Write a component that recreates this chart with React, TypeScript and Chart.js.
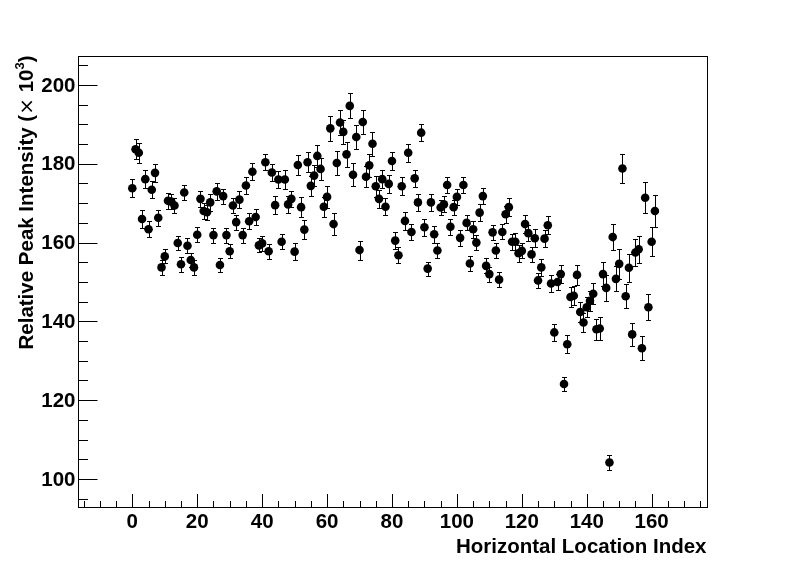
import React, { useEffect, useRef } from "react";
import { Chart, registerables } from "chart.js";
Chart.register(...registerables);

// Relative peak intensity (x 10^3) per horizontal location index 0..161
const intensity = [
  173.8, 183.7, 182.8, 166.0, 176.1, 163.4, 173.4, 177.7, 166.3, 153.7,
  156.5, 170.6, 170.4, 169.4, 159.9, 154.5, 172.7, 159.2, 155.6, 153.7,
  162.0, 171.1, 168.0, 167.7, 170.2, 161.9, 173.0, 154.3, 171.8, 161.9,
  157.8, 169.4, 165.2, 170.9, 161.9, 174.5, 165.4, 178.0, 166.5, 159.3,
  159.8, 180.4, 157.8, 177.8, 169.5, 176.0, 160.2, 176.0, 169.7, 171.1,
  157.7, 179.7, 169.0, 163.3, 180.4, 174.4, 177.0, 182.0, 178.7, 169.1,
  171.6, 189.0, 164.7, 180.2, 190.5, 188.1, 182.4, 194.7, 177.2, 186.8,
  158.1, 190.6, 176.7, 179.6, 185.1, 174.3, 171.1, 176.1, 169.1, 174.9,
  180.7, 160.5, 156.8, 174.3, 165.5, 182.8, 162.7, 176.3, 170.2, 187.9,
  163.9, 153.4, 170.2, 162.1, 158.0, 168.9, 169.7, 174.6, 164.0, 169.0,
  171.6, 161.2, 174.6, 165.0, 154.7, 163.4, 160.0, 167.6, 171.8, 154.1,
  152.0, 162.6, 158.0, 150.6, 162.7, 167.2, 169.0, 160.2, 160.2, 157.3,
  157.9, 164.7, 162.4, 157.0, 161.1, 150.4, 153.7, 161.0, 164.4, 149.6,
  137.2, 150.0, 152.0, 124.1, 134.2, 146.2, 146.5, 151.8, 142.4, 139.7,
  143.6, 145.2, 147.0, 138.0, 138.2, 152.0, 148.5, 104.2, 161.4, 150.8,
  154.6, 178.8, 146.4, 153.6, 136.7, 157.5, 158.3, 133.2, 171.4, 143.6,
  160.2, 168.0,
];

// Error (half length of the vertical error bar), same units
const errors = [
  2.3, 2.5, 2.5, 2.2, 2.2, 2.0, 2.2, 2.2, 2.0, 1.8,
  1.8, 2.0, 2.0, 1.9, 1.9, 1.9, 1.9, 1.9, 1.8, 1.9,
  1.9, 2.0, 2.0, 1.9, 2.1, 1.9, 2.1, 1.8, 1.9, 1.9,
  1.8, 1.9, 1.9, 2.1, 1.9, 2.1, 2.0, 2.1, 2.0, 1.8,
  1.9, 2.0, 1.9, 2.1, 2.2, 2.1, 1.9, 2.4, 2.1, 2.1,
  2.1, 2.5, 2.5, 2.5, 2.6, 2.5, 2.6, 2.8, 2.75, 2.5,
  2.7, 3.1, 2.7, 3.0, 3.1, 3.1, 3.1, 3.2, 2.9, 3.1,
  2.4, 3.0, 2.7, 3.0, 3.0, 2.7, 2.3, 2.3, 2.1, 2.3,
  2.3, 2.2, 2.0, 2.3, 2.2, 2.3, 2.1, 2.2, 2.1, 2.2,
  2.1, 1.8, 2.1, 2.1, 2.0, 2.0, 2.0, 2.1, 2.0, 1.9,
  2.1, 2.0, 2.1, 1.9, 1.9, 2.2, 2.0, 2.2, 2.0, 1.9,
  1.9, 1.9, 1.9, 1.9, 1.9, 2.1, 2.2, 2.1, 2.2, 2.1,
  1.9, 2.3, 2.1, 2.0, 2.3, 1.8, 2.2, 2.2, 2.3, 2.1,
  2.1, 2.0, 2.2, 1.8, 2.3, 2.5, 2.4, 2.6, 2.5, 2.5,
  2.5, 2.5, 2.7, 2.6, 2.9, 3.1, 3.4, 2.0, 3.2, 3.2,
  3.9, 3.6, 3.1, 3.5, 3.0, 3.4, 3.5, 3.1, 3.9, 3.3,
  3.7, 4.0,
];

const xTickLabels = [0, 20, 40, 60, 80, 100, 120, 140, 160];
const yTickLabels = [100, 120, 140, 160, 180, 200];
const xTitle = "Horizontal Location Index";

const FONT = '"Liberation Sans", Arial, Helvetica, sans-serif';

export default function App() {
  const ref = useRef<HTMLCanvasElement>(null);

  useEffect(() => {
    document.body.style.margin = "0";
    const canvas = ref.current;
    if (!canvas) return;
    const points = intensity.map((v, i) => ({ x: i, y: v }));

    const bgPlugin = {
      id: "bg",
      beforeDraw(chart: any) {
        const c = chart.ctx;
        c.save();
        c.fillStyle = "#fff";
        c.fillRect(0, 0, chart.width, chart.height);
        c.restore();
      },
    };

    const errPlugin = {
      id: "errbars",
      beforeDatasetsDraw(chart: any) {
        const c = chart.ctx;
        const xs = chart.scales.x;
        const ys = chart.scales.y;
        c.save();
        c.strokeStyle = "#000";
        c.lineWidth = 1;
        c.beginPath();
        points.forEach((p, i) => {
          const px = Math.round(xs.getPixelForValue(p.x)) + 0.5;
          const y1 = Math.round(ys.getPixelForValue(p.y - errors[i])) + 0.5;
          const y2 = Math.round(ys.getPixelForValue(p.y + errors[i])) + 0.5;
          c.moveTo(px, y1);
          c.lineTo(px, y2);
          c.moveTo(px - 2.5, y1);
          c.lineTo(px + 2.5, y1);
          c.moveTo(px - 2.5, y2);
          c.lineTo(px + 2.5, y2);
        });
        c.stroke();
        c.restore();
      },
    };

    const axesPlugin = {
      id: "rootAxes",
      afterDraw(chart: any) {
        const c = chart.ctx;
        const a = chart.chartArea;
        const xs = chart.scales.x;
        const ys = chart.scales.y;
        c.save();
        c.strokeStyle = "#000";
        c.lineWidth = 1;
        const L = Math.round(a.left) - 0.5;
        const R = Math.round(a.right) - 0.5;
        const T = Math.round(a.top) + 0.5;
        const B = Math.round(a.bottom) + 0.5;
        c.strokeRect(L, T, R - L, B - T);

        // x ticks (inward)
        c.beginPath();
        for (let v = -15; v <= 175; v += 5) {
          const px = Math.round(xs.getPixelForValue(v)) + 0.5;
          if (px < L || px > R) continue;
          const len = v % 20 === 0 ? 13.5 : 6.5;
          c.moveTo(px, B);
          c.lineTo(px, B - len);
        }
        // y ticks (inward)
        for (let v = 95; v <= 205; v += 5) {
          const py = Math.round(ys.getPixelForValue(v)) + 0.5;
          if (py < T || py > B) continue;
          const len = v % 20 === 0 ? 19 : 9.5;
          c.moveTo(L, py);
          c.lineTo(L + len, py);
        }
        c.stroke();

        c.fillStyle = "#000";
        c.font = `bold 20.5px ${FONT}`;
        c.textAlign = "center";
        c.textBaseline = "top";
        xTickLabels.forEach((v) => {
          c.fillText(String(v), xs.getPixelForValue(v), B + 5);
        });
        c.textAlign = "right";
        c.textBaseline = "middle";
        yTickLabels.forEach((v) => {
          c.fillText(String(v), L - 3, ys.getPixelForValue(v) + 1);
        });

        // x title, right aligned at the axis end
        c.font = `bold 20.5px ${FONT}`;
        c.textAlign = "right";
        c.textBaseline = "alphabetic";
        c.fillText(xTitle, R - 1, 553);

        // y title, rotated, right aligned at the top
        const parts = [
          { t: "Relative Peak Intensity (", f: `bold 20.5px ${FONT}`, dy: 0 },
          { t: "\u00d7", f: `20px "DejaVu Sans", ${FONT}`, dy: 0 },
          { t: " 10", f: `bold 20.5px ${FONT}`, dy: 0 },
          { t: "3", f: `bold 13px ${FONT}`, dy: -9 },
          { t: ")", f: `bold 20.5px ${FONT}`, dy: 0 },
        ];
        let total = 0;
        const widths = parts.map((p) => {
          c.font = p.f;
          const w = c.measureText(p.t).width;
          total += w;
          return w;
        });
        c.translate(33, T - 1);
        c.rotate(-Math.PI / 2);
        c.textAlign = "left";
        let xpos = -total;
        parts.forEach((p, i) => {
          c.font = p.f;
          c.fillText(p.t, xpos, p.dy);
          xpos += widths[i];
        });
        c.restore();
      },
    };

    const chart = new Chart(canvas, {
      type: "scatter",
      data: {
        datasets: [
          {
            data: points,
            pointRadius: 4.3,
            pointHoverRadius: 4.3,
            backgroundColor: "#000",
            borderWidth: 0,
          },
        ],
      },
      options: {
        responsive: false,
        animation: false,
        devicePixelRatio: 1,
        layout: { padding: { left: 79, right: 80, top: 56, bottom: 58 } },
        plugins: { legend: { display: false }, tooltip: { enabled: false } },
        events: [],
        scales: {
          x: { type: "linear", display: false, min: -16.42, max: 177.36 },
          y: { type: "linear", display: false, min: 92.89, max: 207.36 },
        },
      },
      plugins: [bgPlugin, errPlugin, axesPlugin],
    });
    return () => chart.destroy();
  }, []);

  return <canvas ref={ref} width={788} height={565} style={{ display: "block" }} />;
}
